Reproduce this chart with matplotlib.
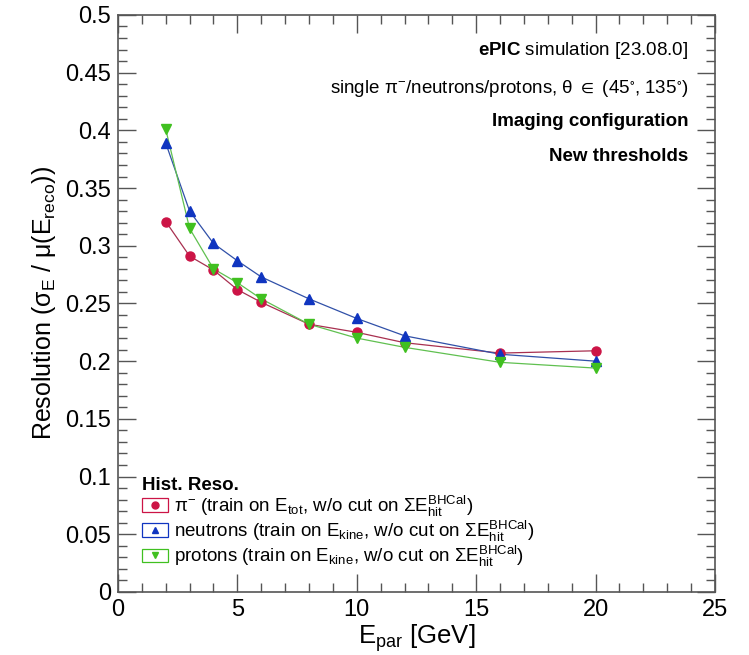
import matplotlib
matplotlib.use("Agg")
import matplotlib.pyplot as plt
from matplotlib.legend_handler import HandlerBase
from matplotlib.lines import Line2D
from matplotlib.patches import Rectangle
from matplotlib.ticker import MultipleLocator, FuncFormatter

plt.rcParams['font.family'] = ['Liberation Sans', 'DejaVu Sans']
plt.rcParams['mathtext.fontset'] = 'custom'
plt.rcParams['mathtext.rm'] = 'Liberation Sans'
plt.rcParams['mathtext.it'] = 'Liberation Sans:italic'
plt.rcParams['mathtext.bf'] = 'Liberation Sans:bold'
plt.rcParams['mathtext.fallback'] = 'stixsans'

# beam energies [GeV]
energy = [2, 3, 4, 5, 6, 8, 10, 12, 16, 20]

# resolution per species
res_pion = [0.321, 0.291, 0.279, 0.262, 0.251, 0.232, 0.225, 0.216, 0.207, 0.209]
res_neutron = [0.389, 0.330, 0.302, 0.287, 0.273, 0.254, 0.237, 0.222, 0.206, 0.200]
res_proton = [0.401, 0.315, 0.280, 0.268, 0.254, 0.232, 0.220, 0.212, 0.199, 0.194]

labels = [
    r"π$^{-}$ (train on E$_{\mathrm{tot}}$, w/o cut on ΣE$_{\mathrm{hit}}^{\mathrm{BHCal}}$)",
    r"neutrons (train on E$_{\mathrm{kine}}$, w/o cut on ΣE$_{\mathrm{hit}}^{\mathrm{BHCal}}$)",
    r"protons (train on E$_{\mathrm{kine}}$, w/o cut on ΣE$_{\mathrm{hit}}^{\mathrm{BHCal}}$)",
]

marker_cols = ['#cc1446', '#1035c0', '#40c020']
line_cols = ['#a83050', '#3050a8', '#60c050']
markers = ['o', '^', 'v']


class BoxMarker(HandlerBase):
    # ROOT style legend key: coloured box with the marker inside
    def create_artists(self, legend, orig_handle, xdescent, ydescent,
                       width, height, fontsize, trans):
        col = orig_handle.get_markerfacecolor()
        box = Rectangle((-xdescent, -ydescent), width, height,
                        fc='none', ec=col, lw=0.9, transform=trans)
        mk = Line2D([-xdescent + width / 2], [-ydescent + height / 2],
                    marker=orig_handle.get_marker(), ms=5, color=col,
                    ls='none', transform=trans)
        return [box, mk]


fig = plt.figure(figsize=(7.49, 6.55), dpi=100)
ax = fig.add_axes([0.1575, 0.0962, 0.797, 0.881])

handles = []
for y, mc, lc, m in zip([res_pion, res_neutron, res_proton], marker_cols, line_cols, markers):
    ax.plot(energy, y, color=lc, lw=0.9, zorder=2)
    h, = ax.plot(energy, y, ls='none', marker=m, ms=6.5, color=mc, zorder=3)
    handles.append(h)

ax.set_xlim(0, 25)
ax.set_ylim(0, 0.5)
ax.xaxis.set_major_locator(MultipleLocator(5))
ax.xaxis.set_minor_locator(MultipleLocator(1))
ax.yaxis.set_major_locator(MultipleLocator(0.05))
ax.yaxis.set_minor_locator(MultipleLocator(0.01))
ax.yaxis.set_major_formatter(FuncFormatter(lambda v, p: f"{v:g}"))
ax.tick_params(which='both', direction='in', top=True, right=True,
               labelsize=17, color='#555555', width=1)
ax.tick_params(which='major', length=13, pad=5)
ax.tick_params(which='minor', length=6.5)
for s in ax.spines.values():
    s.set_color('#555555')
    s.set_linewidth(1.2)

ax.set_xlabel(r"E$_{\mathrm{par}}$ [GeV]", fontsize=18.5, labelpad=1)
ax.set_ylabel(r"Resolution (σ$_{\mathrm{E}}$ / μ(E$_{\mathrm{reco}}$))", fontsize=18, labelpad=5)

tx = 0.955
fs = 13.5
ax.text(tx, 0.939, r"$\mathbf{ePIC}$ simulation [23.08.0]", transform=ax.transAxes,
        ha='right', va='center', fontsize=fs)
ax.text(tx, 0.873, r"single π$^{-}$/neutrons/protons, θ $\in$ (45$^{\circ}$, 135$^{\circ}$)",
        transform=ax.transAxes, ha='right', va='center', fontsize=fs)
ax.text(tx, 0.815, "Imaging configuration", transform=ax.transAxes,
        ha='right', va='center', fontsize=fs, fontweight='bold')
ax.text(tx, 0.754, "New thresholds", transform=ax.transAxes,
        ha='right', va='center', fontsize=fs, fontweight='bold')

leg = ax.legend(handles, labels, loc='lower left', bbox_to_anchor=(0.04, 0.04),
                frameon=False, fontsize=fs, handler_map={Line2D: BoxMarker()},
                handlelength=1.39, handleheight=0.75, handletextpad=0.3,
                labelspacing=0.0, borderaxespad=0.0, borderpad=0.0,
                title="Hist. Reso.", title_fontproperties={'weight': 'bold', 'size': fs})
leg._legend_box.align = 'left'

fig.savefig("out.png", dpi=100)
